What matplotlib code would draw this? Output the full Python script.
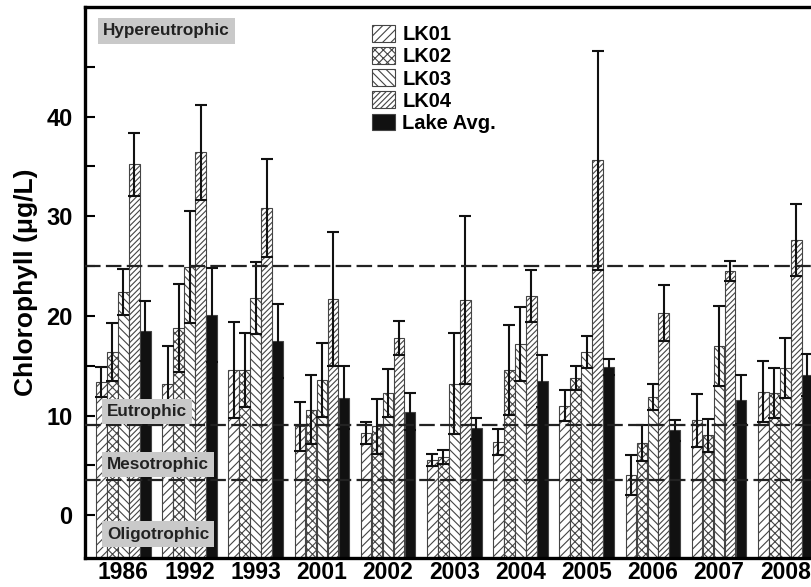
import numpy as np
import matplotlib

matplotlib.use("Agg")
import matplotlib.pyplot as plt
from matplotlib.patches import Patch

plt.rcParams["font.family"] = ["Liberation Sans", "DejaVu Sans"]
plt.rcParams["font.weight"] = "bold"
plt.rcParams["hatch.linewidth"] = 0.8

# значения
years = ["1986", "1992", "1993", "2001", "2002", "2003", "2004", "2005", "2006", "2007", "2008"]
lk01 = [13.4, 13.2, 14.6, 8.9, 8.2, 5.5, 7.3, 11.0, 4.0, 9.5, 12.4]
lk01_sd = [1.5, 3.8, 4.8, 2.5, 1.1, 0.6, 1.3, 1.6, 2.0, 2.7, 3.1]
lk02 = [16.4, 18.8, 14.6, 10.6, 8.9, 5.8, 14.6, 13.8, 7.2, 8.0, 12.3]
lk02_sd = [2.9, 4.4, 3.7, 3.5, 2.8, 0.7, 4.5, 1.2, 1.8, 1.7, 2.5]
lk03 = [22.4, 24.9, 21.8, 13.6, 12.3, 13.2, 17.2, 16.4, 11.9, 17.0, 14.8]
lk03_sd = [2.3, 5.6, 3.6, 3.7, 2.4, 5.1, 3.7, 1.6, 1.3, 4.0, 3.0]
lk04 = [35.2, 36.4, 30.8, 21.7, 17.8, 21.6, 22.0, 35.6, 20.3, 24.5, 27.6]
lk04_sd = [3.2, 4.8, 4.9, 6.7, 1.7, 8.4, 2.6, 11.0, 2.8, 1.0, 3.6]
lake_avg = [18.5, 20.1, 17.5, 11.8, 10.4, 8.7, 13.5, 14.9, 8.5, 11.6, 14.1]
lake_avg_sd = [3.0, 4.7, 3.7, 3.2, 1.9, 1.1, 2.6, 0.8, 1.1, 2.5, 2.1]

series_names = ["LK01", "LK02", "LK03", "LK04", "Lake Avg."]
series_vals = [lk01, lk02, lk03, lk04, lake_avg]
series_sd = [lk01_sd, lk02_sd, lk03_sd, lk04_sd, lake_avg_sd]
hatches = ["////", "xxxx", "\\\\\\\\", "//////", None]
faces = ["white", "white", "white", "white", "#111111"]

boundaries = [25, 9, 3.5]
zones = [("Hypereutrophic", 48.6), ("Eutrophic", 10.4), ("Mesotrophic", 5.1), ("Oligotrophic", -1.9)]

YMIN, YMAX = -4.3, 51.0

fig = plt.figure(figsize=(8.11, 5.87), dpi=100)
ax = fig.add_axes([85 / 811, 29 / 587, 1 - 85 / 811, 551 / 587])

x = np.arange(len(years))
w = 0.166
for i, (vals, sd) in enumerate(zip(series_vals, series_sd)):
    pos = x + (i - 2) * w
    vals = np.array(vals)
    ax.bar(pos, vals - YMIN, bottom=YMIN, width=w * 0.97,
           color=faces[i], edgecolor="#444444", hatch=hatches[i],
           linewidth=0.8, zorder=2)
    ax.errorbar(pos, vals, yerr=sd, fmt="none", ecolor="#111111",
                elinewidth=1.5, capsize=4, capthick=1.5, zorder=3)

for b in boundaries:
    ax.axhline(b, color="#222222", lw=1.6, ls=(0, (7, 2.4)), zorder=4)

for name, yv in zones:
    xl = -0.31 if name == "Hypereutrophic" else -0.25
    ax.text(xl, yv, name, fontsize=12.3, fontweight="bold", color="#222222",
            ha="left", va="center", zorder=5,
            bbox=dict(boxstyle="square,pad=0.3", fc="#c9c9c9", ec="none"))

ax.set_xlim(-0.58, 10.39)
ax.set_ylim(YMIN, YMAX)
ax.set_xticks(x)
ax.set_xticklabels(years, fontsize=16.5, fontweight="bold")
ax.tick_params(axis="x", length=0, pad=2.5)
ax.set_yticks([0, 10, 20, 30, 40])
ax.set_yticks([5, 15, 25, 35, 45], minor=True)
ax.tick_params(axis="y", which="both", direction="in", length=7, width=1.5,
               labelsize=17, pad=9)
ax.set_ylabel("Chlorophyll (\u03bcg/L)", fontsize=19, fontweight="bold", labelpad=6)

for s in ["top", "left", "bottom"]:
    ax.spines[s].set_linewidth(2.4)
ax.spines["right"].set_visible(False)

handles = [Patch(facecolor=faces[i], edgecolor="#444444", hatch=hatches[i],
                 linewidth=0.8, label=series_names[i]) for i in range(5)]
ax.legend(handles=handles, loc="upper left", frameon=False, fontsize=14.5,
          bbox_to_anchor=(372 / 811, 1 - 25 / 587), bbox_transform=fig.transFigure,
          borderaxespad=0, borderpad=0, handlelength=1.15, handleheight=0.9,
          labelspacing=0.14, handletextpad=0.35)

fig.savefig("out.png", dpi=100)
